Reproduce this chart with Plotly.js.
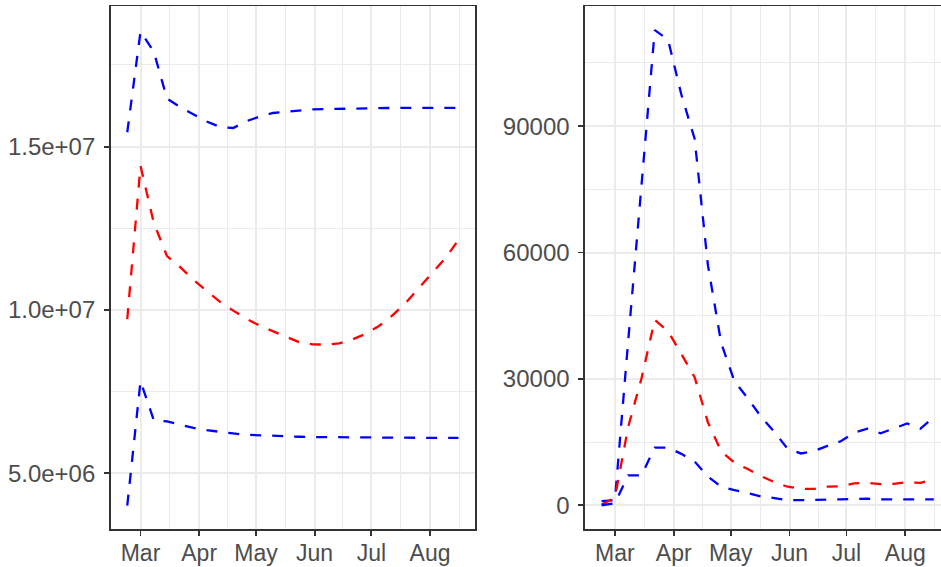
<!DOCTYPE html>
<html>
<head>
<meta charset="utf-8">
<script src="https://cdn.plot.ly/plotly-3.0.1.min.js"></script>
<style>
html, body { margin: 0; padding: 0; overflow: hidden; background: #ffffff; }
#plot { width: 960px; height: 567px; }
</style>
</head>
<body>
<div id="plot"></div>
<script>
// Weekly dates
const dates = ["2020-02-23","2020-03-01","2020-03-08","2020-03-15","2020-03-22","2020-03-29",
  "2020-04-05","2020-04-12","2020-04-19","2020-04-26","2020-05-03","2020-05-10","2020-05-17",
  "2020-05-24","2020-05-31","2020-06-07","2020-06-14","2020-06-21","2020-06-28","2020-07-05",
  "2020-07-12","2020-07-19","2020-07-26","2020-08-02","2020-08-09","2020-08-16"];

// Left panel series
const leftUpper = [15440000, 18520000, 17910000, 16470000, 16210000, 15980000, 15770000, 15600000,
  15570000, 15780000, 15920000, 16030000, 16070000, 16110000, 16140000, 16150000, 16160000,
  16170000, 16180000, 16180000, 16185000, 16185000, 16185000, 16185000, 16185000, 16185000];
const leftMid = [9720000, 14410000, 12670000, 11650000, 11310000, 10920000, 10580000, 10250000,
  9980000, 9730000, 9520000, 9340000, 9180000, 9010000, 8950000, 8940000, 8980000, 9100000,
  9270000, 9510000, 9830000, 10210000, 10660000, 11120000, 11580000, 12140000];
const leftLow = [4010000, 7820000, 6630000, 6590000, 6490000, 6390000, 6320000, 6260000, 6220000,
  6180000, 6160000, 6140000, 6130000, 6120000, 6110000, 6105000, 6100000, 6095000, 6090000,
  6090000, 6085000, 6085000, 6085000, 6085000, 6085000, 6085000];

// Right panel series
const rightUpper = [1000, 1200, 39000, 76500, 112800, 110500, 97500, 87000, 57000, 38500, 29400,
  25400, 21000, 17400, 13400, 12300, 12900, 14100, 15200, 17200, 18200, 17100, 18200, 19400,
  18200, 20900];
const rightMid = [200, 1800, 18600, 30100, 44000, 41300, 35900, 30400, 19700, 12800, 10100, 8600,
  6900, 5500, 4400, 3900, 3900, 4400, 4500, 5200, 5300, 5000, 5100, 5500, 5300, 6200];
const rightLow = [0, 500, 7100, 7100, 13700, 13700, 12200, 10400, 6800, 4400, 3600, 2800, 2100,
  1700, 1200, 1200, 1200, 1350, 1400, 1500, 1550, 1400, 1400, 1400, 1400, 1400];

// Tick definitions
const monthTicks = ["2020-03-01","2020-04-01","2020-05-01","2020-06-01","2020-07-01","2020-08-01"];
const monthLabels = ["Mar","Apr","May","Jun","Jul","Aug"];
const monthMinor = ["2020-03-16 12:00","2020-04-16 00:00","2020-05-16 12:00","2020-06-16 00:00","2020-07-16 12:00","2020-08-16 12:00"];
const leftYTicks = [5000000, 10000000, 15000000];
const leftYLabels = ["5.0e+06","1.0e+07","1.5e+07"];
const leftYMinor = [7500000, 12500000, 17500000];
const rightYTicks = [0, 30000, 60000, 90000];
const rightYLabels = ["0","30000","60000","90000"];
const rightYMinor = [15000, 45000, 75000, 105000];

const BLUE = "#0000FF", RED = "#FF0000";
const DASH = "11px,11px";

function tr(x, y, color, xa, ya) {
  return { x: x, y: y, type: "scatter", mode: "lines", xaxis: xa, yaxis: ya,
    line: { color: color, width: 2.3, dash: DASH }, hoverinfo: "skip" };
}

const data = [
  tr(dates, leftUpper, BLUE, "x", "y"),
  tr(dates, leftMid, RED, "x", "y"),
  tr(dates, leftLow, BLUE, "x", "y"),
  tr(dates, rightUpper, BLUE, "x2", "y2"),
  tr(dates, rightMid, RED, "x2", "y2"),
  tr(dates, rightLow, BLUE, "x2", "y2")
];

const gridC = "#EBEBEB", lineC = "#333333";
function xAxis(domain, anchor) {
  return {
    domain: domain, anchor: anchor, type: "date",
    range: ["2020-02-14 06:00", "2020-08-24 18:00"],
    tickmode: "array", tickvals: monthTicks, ticktext: monthLabels,
    ticks: "outside", ticklen: 5, tickwidth: 1.8, tickcolor: lineC,
    ticklabelstandoff: -2,
    showline: true, mirror: true, linecolor: lineC, linewidth: 1.6,
    showgrid: true, gridcolor: gridC, gridwidth: 2, zeroline: false,
    minor: { tickmode: "array", tickvals: monthMinor, showgrid: true, gridcolor: gridC, gridwidth: 1, ticks: "" },
    tickfont: { size: 23, color: "#4D4D4D" }
  };
}
function yAxis(domain, anchor, range, tv, tt, mv) {
  return {
    domain: domain, anchor: anchor, range: range,
    tickmode: "array", tickvals: tv, ticktext: tt,
    ticks: "outside", ticklen: 5, tickwidth: 1.8, tickcolor: lineC,
    ticklabelstandoff: 4,
    showline: true, mirror: true, linecolor: lineC, linewidth: 1.6,
    showgrid: true, gridcolor: gridC, gridwidth: 2, zeroline: false,
    minor: { tickmode: "array", tickvals: mv, showgrid: true, gridcolor: gridC, gridwidth: 1, ticks: "" },
    tickfont: { size: 24, color: "#4D4D4D" }
  };
}

const yDom = [0.0670, 0.98854];
const layout = {
  width: 960, height: 567,
  margin: { l: 0, r: 0, t: 0, b: 0 },
  paper_bgcolor: "#ffffff", plot_bgcolor: "#ffffff",
  showlegend: false,
  font: { family: "Liberation Sans, Arial, sans-serif", size: 24, color: "#4D4D4D" },
  xaxis: xAxis([0.11531, 0.49479], "y"),
  yaxis: yAxis(yDom, "x", [3295000, 19290000], leftYTicks, leftYLabels, leftYMinor),
  xaxis2: xAxis([0.60938, 0.99], "y2"),
  yaxis2: yAxis(yDom, "x2", [-5640, 118400], rightYTicks, rightYLabels, rightYMinor)
};

Plotly.newPlot("plot", data, layout, { displayModeBar: false, responsive: false, staticPlot: true });
</script>
</body>
</html>
